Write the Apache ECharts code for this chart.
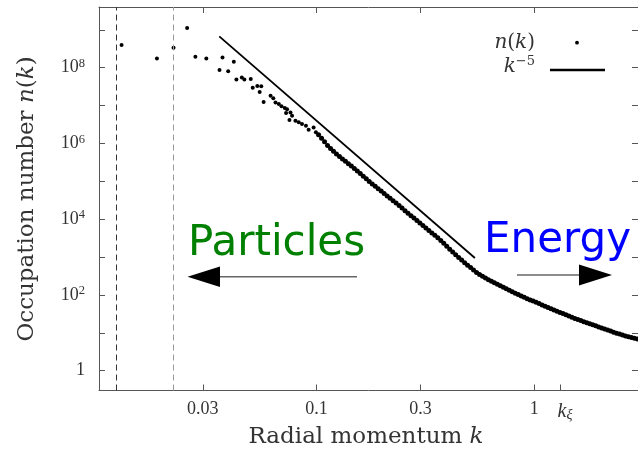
<!DOCTYPE html>
<html>
<head>
<meta charset="utf-8">
<script src="https://cdn.jsdelivr.net/npm/echarts@6/dist/echarts.min.js"></script>
<style>
  html, body { margin: 0; padding: 0; background: #ffffff; }
  #chart { width: 638px; height: 453px; }
</style>
</head>
<body>
<div id="chart"></div>
<script>
// Occupation number n(k) at low momenta (sparse, noisy shells)
const kSparse = [0.0127, 0.01846, 0.02201, 0.02541, 0.02773, 0.03113, 0.0358, 0.03695, 0.03923, 0.04165,
  0.04281, 0.04532, 0.04656, 0.04982, 0.05087, 0.05339, 0.05569, 0.05475, 0.05711, 0.06146,
  0.06326, 0.06474, 0.06705, 0.06898, 0.07142, 0.07317, 0.0724, 0.07585, 0.07505, 0.07714,
  0.07993, 0.08278, 0.08567, 0.08935, 0.09193, 0.09689, 0.09927];
const nSparse = [3.98e8, 1.76e8, 3.37e8, 1.12e9, 1.95e8, 1.76e8, 8.70e7, 1.87e8, 7.99e7, 1.44e8,
  4.91e7, 5.54e7, 4.88e7, 5.03e7, 2.96e7, 3.29e7, 3.21e7, 2.28e7, 1.24e7, 1.82e7,
  1.57e7, 1.21e7, 1.10e7, 9.63e6, 8.63e6, 8.02e6, 6.37e6, 6.60e6, 4.16e6, 5.40e6,
  3.99e6, 3.60e6, 3.26e6, 2.94e6, 2.31e6, 2.65e6, 1.96e6];

// Occupation number n(k) at higher momenta (dense shells)
const kDense = [0.1021, 0.1054, 0.1088, 0.1123, 0.1159, 0.1196, 0.1234, 0.1274, 0.1315, 0.1357,
  0.1400, 0.1445, 0.1491, 0.1539, 0.1588, 0.1639, 0.1692, 0.1746, 0.1802, 0.1860,
  0.1919, 0.1981, 0.2044, 0.2110, 0.2177, 0.2247, 0.2319, 0.2394, 0.2470, 0.2549,
  0.2631, 0.2715, 0.2802, 0.2892, 0.2985, 0.3080, 0.3179, 0.3281, 0.3386, 0.3494,
  0.3606, 0.3722, 0.3841, 0.3964, 0.4091, 0.4222, 0.4357, 0.4497, 0.4641, 0.4790,
  0.4943, 0.5102, 0.5265, 0.5434, 0.5608, 0.5788, 0.5973, 0.6165, 0.6362, 0.6566,
  0.6776, 0.6993, 0.7217, 0.7448, 0.7687, 0.7933, 0.8187, 0.8449, 0.8720, 0.8999,
  0.9288, 0.9585, 0.9892, 1.0209, 1.0536, 1.0873, 1.1221, 1.1581, 1.1952, 1.2335,
  1.2730, 1.3138, 1.3559, 1.3993, 1.4441, 1.4904, 1.5381, 1.5874, 1.6382, 1.6907,
  1.7449, 1.8008, 1.8585, 1.9180, 1.9795, 2.0429, 2.1083, 2.1759, 2.2456, 2.3175,
  2.3918, 2.4684, 2.5475, 2.6291, 2.7134, 2.8003, 2.8900, 2.982];
const nDense = [1.70e6, 1.37e6, 1.10e6, 8.83e5, 7.36e5, 6.24e5, 5.30e5, 4.52e5, 3.91e5, 3.38e5,
  2.92e5, 2.52e5, 2.18e5, 1.88e5, 1.61e5, 1.37e5, 1.16e5, 9.89e4, 8.55e4, 7.39e4,
  6.39e4, 5.52e4, 4.77e4, 4.12e4, 3.56e4, 3.08e4, 2.66e4, 2.29e4, 1.96e4, 1.68e4,
  1.44e4, 1.24e4, 1.07e4, 9.20e3, 7.91e3, 6.80e3, 5.84e3, 5.03e3, 4.35e3, 3.76e3,
  3.25e3, 2.73e3, 2.30e3, 1.93e3, 1.62e3, 1.37e3, 1.15e3, 972, 832, 713,
  610, 527, 456, 394, 349, 313, 280, 253, 231, 211,
  192, 175, 160, 146, 134, 122, 111, 102, 93.8, 86.4,
  79.6, 74.0, 68.8, 64.0, 59.1, 54.5, 50.2, 46.3, 43.1, 40.1,
  37.2, 34.6, 32.2, 29.9, 27.8, 25.9, 24.0, 22.4, 21.0, 19.7,
  18.5, 17.4, 16.3, 15.3, 14.3, 13.5, 12.6, 11.8, 11.1, 10.4,
  9.77, 9.25, 8.76, 8.30, 7.90, 7.55, 7.21, 6.89];

// k^-5 guide line (end points)
const kPower = [0.0357, 0.534];
const nPower = [6.7e8, 946];

// Dashed vertical markers and the healing-length momentum k_xi
const kMarkers = [0.012, 0.0219];
const kXi = 1.314;

// Axis ranges and ticks
const xRange = [0.01, 3];
const yRange = [0.3, 4e9];
const xTicks = [0.03, 0.1, 0.3, 1];
const xTickLabels = ['0.03', '0.1', '0.3', '1'];
const yTickExp = [0, 1, 2, 3, 4, 5, 6, 7, 8, 9];
const yLabelExp = [0, 2, 4, 6, 8];

const L = Math.log10;
const toPts = (ks, ns) => ks.map((k, i) => [L(k), L(ns[i])]);

const serif = "'Liberation Serif', 'DejaVu Serif', serif";
const titleSerif = "'DejaVu Serif', serif";
const sans = "'DejaVu Sans', sans-serif";
const axisColor = '#555555';
const textColor = '#333333';

const xTickVals = xTicks.map(L);
const xLabelVals = xTickVals.concat([L(kXi)]);

function xLabel(v) {
  if (Math.abs(v - L(kXi)) < 1e-6) return '{it|k}{sub|ξ}';
  for (let i = 0; i < xTicks.length; i++) {
    if (Math.abs(v - L(xTicks[i])) < 1e-6) return '{n|' + xTickLabels[i] + '}';
  }
  return '';
}
function yLabel(v) {
  const e = Math.round(v);
  return e === 0 ? '{b|1}' : '{b|10}{s|' + e + '}';
}

const chart = echarts.init(document.getElementById('chart'), null, { renderer: 'canvas' });

const option = {
  animation: false,
  backgroundColor: '#ffffff',
  grid: { left: 99, top: 7, width: 542.5, height: 383.5, containLabel: false },
  xAxis: [
    {
      type: 'value', position: 'bottom',
      min: L(xRange[0]), max: L(xRange[1]),
      axisLine: { show: true, onZero: false, lineStyle: { color: axisColor, width: 1 } },
      axisTick: { show: true, inside: true, length: 6, customValues: xLabelVals, lineStyle: { color: axisColor } },
      axisLabel: {
        show: true, customValues: xLabelVals, margin: 10, formatter: xLabel, color: textColor,
        rich: {
          n: { fontFamily: serif, fontSize: 18, color: textColor },
          it: { fontFamily: serif, fontSize: 20, fontStyle: 'italic', color: textColor, padding: [0, 0, 0, 10], lineHeight: 22 },
          sub: { fontFamily: serif, fontSize: 14, fontStyle: 'italic', color: textColor, verticalAlign: 'bottom', lineHeight: 14 }
        }
      },
      splitLine: { show: false }
    },
    {
      type: 'value', position: 'top',
      min: L(xRange[0]), max: L(xRange[1]),
      axisLine: { show: true, onZero: false, lineStyle: { color: axisColor, width: 1 } },
      axisTick: { show: true, inside: true, length: 6, customValues: xTickVals, lineStyle: { color: axisColor } },
      axisLabel: { show: false },
      splitLine: { show: false }
    }
  ],
  yAxis: [
    {
      type: 'value', position: 'left',
      min: L(yRange[0]), max: L(yRange[1]),
      axisLine: { show: true, onZero: false, lineStyle: { color: axisColor, width: 1 } },
      axisTick: { show: true, inside: true, length: 6, customValues: yTickExp, lineStyle: { color: axisColor } },
      axisLabel: {
        show: true, customValues: yLabelExp, margin: 14, formatter: yLabel, color: textColor,
        rich: {
          b: { fontFamily: serif, fontSize: 18, color: textColor, lineHeight: 21 },
          s: { fontFamily: serif, fontSize: 12.5, color: textColor, verticalAlign: 'top', lineHeight: 12 }
        }
      },
      splitLine: { show: false }
    },
    {
      type: 'value', position: 'right',
      min: L(yRange[0]), max: L(yRange[1]),
      axisLine: { show: true, onZero: false, lineStyle: { color: axisColor, width: 1 } },
      axisTick: { show: true, inside: true, length: 6, customValues: yTickExp, lineStyle: { color: axisColor } },
      axisLabel: { show: false },
      splitLine: { show: false }
    }
  ],
  series: [
    {
      name: 'n(k)', type: 'scatter', xAxisIndex: 0, yAxisIndex: 0,
      symbol: 'circle',
      symbolSize: (val, params) => (params.dataIndex >= kSparse.length ? 5 : 4),
      itemStyle: { color: '#000000', opacity: 1 },
      data: toPts(kSparse, nSparse).concat(toPts(kDense, nDense)),
      z: 3
    },
    {
      name: 'k^-5', type: 'line', xAxisIndex: 0, yAxisIndex: 0,
      showSymbol: false, symbol: 'none',
      lineStyle: { color: '#000000', width: 1.8 },
      data: toPts(kPower, nPower),
      markLine: {
        silent: true, symbol: ['none', 'none'], label: { show: false },
        data: [
          { xAxis: L(kMarkers[0]), lineStyle: { color: '#333333', type: [6, 4], width: 1 } },
          { xAxis: L(kMarkers[1]), lineStyle: { color: '#999999', type: [6, 4], width: 1 } }
        ]
      },
      z: 2
    }
  ],
  graphic: [
    // axis titles
    {
      type: 'text', x: 27, y: 199, rotation: Math.PI / 2,
      style: {
        text: 'Occupation number {i|n}({i|k})', fill: textColor,
        fontFamily: titleSerif, fontSize: 23, align: 'center', verticalAlign: 'middle',
        rich: { i: { fontFamily: titleSerif, fontSize: 23, fontStyle: 'italic', fill: textColor } }
      }
    },
    {
      type: 'text', x: 366, y: 437,
      style: {
        text: 'Radial momentum {i|k}', fill: textColor,
        fontFamily: titleSerif, fontSize: 23, align: 'center', verticalAlign: 'middle',
        rich: { i: { fontFamily: titleSerif, fontSize: 23, fontStyle: 'italic', fill: textColor } }
      }
    },
    // legend
    {
      type: 'text', x: 535, y: 43,
      style: {
        text: '{i|n}({i|k})', fill: textColor, fontFamily: titleSerif, fontSize: 20,
        align: 'right', verticalAlign: 'middle',
        rich: { i: { fontFamily: titleSerif, fontSize: 20, fontStyle: 'italic', fill: textColor } }
      }
    },
    { type: 'circle', shape: { cx: 577, cy: 42.7, r: 1.9 }, style: { fill: '#000000' } },
    {
      type: 'text', x: 535, y: 67,
      style: {
        text: '{i|k}{s|−5}', fill: textColor, align: 'right', verticalAlign: 'middle',
        rich: {
          i: { fontFamily: titleSerif, fontSize: 20, fontStyle: 'italic', fill: textColor, lineHeight: 24 },
          s: { fontFamily: titleSerif, fontSize: 13, fill: textColor, verticalAlign: 'top', lineHeight: 14 }
        }
      }
    },
    { type: 'line', shape: { x1: 550, y1: 70, x2: 605, y2: 70 }, style: { stroke: '#000000', lineWidth: 2.5 } },
    // flux annotations
    {
      type: 'text', x: 188, y: 244,
      style: { text: 'Particles', fill: '#008000', fontFamily: sans, fontSize: 42, align: 'left', verticalAlign: 'middle' }
    },
    { type: 'line', shape: { x1: 357, y1: 276.7, x2: 218, y2: 276.7 }, style: { stroke: '#666666', lineWidth: 1.5 } },
    { type: 'polygon', shape: { points: [[187.5, 276.7], [220, 266.5], [220, 287]] }, style: { fill: '#000000' } },
    {
      type: 'text', x: 484, y: 241,
      style: { text: 'Energy', fill: '#0000ff', fontFamily: sans, fontSize: 42, align: 'left', verticalAlign: 'middle' }
    },
    { type: 'line', shape: { x1: 517, y1: 275, x2: 581, y2: 275 }, style: { stroke: '#666666', lineWidth: 1.5 } },
    { type: 'polygon', shape: { points: [[612, 275], [579, 264.5], [579, 285.5]] }, style: { fill: '#000000' } }
  ]
};

chart.setOption(option);
</script>
</body>
</html>
